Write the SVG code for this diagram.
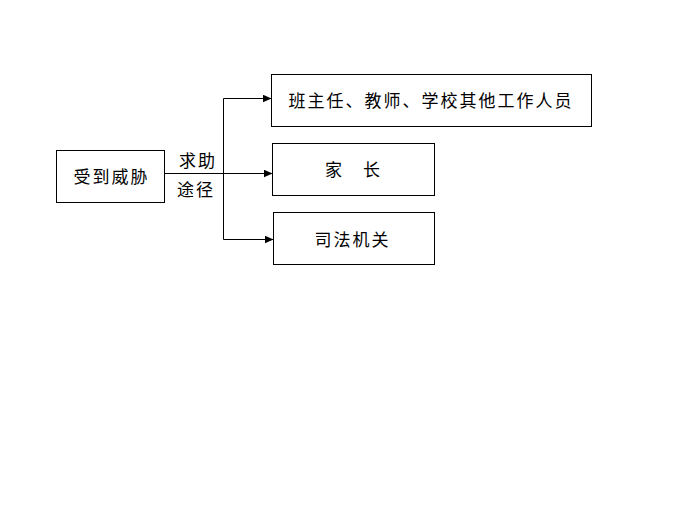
<svg xmlns="http://www.w3.org/2000/svg" width="700" height="525" viewBox="0 0 700 525">
<defs>
<style>
.box{fill:#fff;stroke:#000;stroke-width:1}
.ln{fill:none;stroke:#000;stroke-width:1}
text{font-family:"Noto Sans CJK SC","Noto Sans CJK JP",sans-serif;font-size:17px;fill:#000;letter-spacing:2px}
</style>
<marker id="ah" markerWidth="9" markerHeight="8" refX="9" refY="4" orient="auto" markerUnits="userSpaceOnUse">
<path d="M0,0 L9,4 L0,8 Z" fill="#000"/>
</marker>
</defs>
<rect width="700" height="525" fill="#fff"/>
<g id="connectors">
<path class="ln" d="M164.5,173.5 H272.5" marker-end="url(#ah)"/>
<path class="ln" d="M223.5,98.5 V239.5"/>
<path class="ln" d="M223.5,98.5 H271.5" marker-end="url(#ah)"/>
<path class="ln" d="M223.5,239.5 H273.5" marker-end="url(#ah)"/>
<text x="179" y="167">求助</text>
<text x="177" y="196">途径</text>
</g>
<g id="threat">
<rect class="box" x="56.5" y="150.5" width="108" height="52"/>
<text x="73.5" y="182.5">受到威胁</text>
</g>
<g id="teachers">
<rect class="box" x="271.5" y="74.5" width="320" height="52"/>
<text x="288.5" y="106.5">班主任、教师、学校其他工作人员</text>
</g>
<g id="parents">
<rect class="box" x="272.5" y="143.5" width="162" height="52"/>
<text y="176"><tspan x="325">家</tspan><tspan x="363">长</tspan></text>
</g>
<g id="judiciary">
<rect class="box" x="273.5" y="212.5" width="161" height="52"/>
<text x="314.5" y="245.5">司法机关</text>
</g>
</svg>
